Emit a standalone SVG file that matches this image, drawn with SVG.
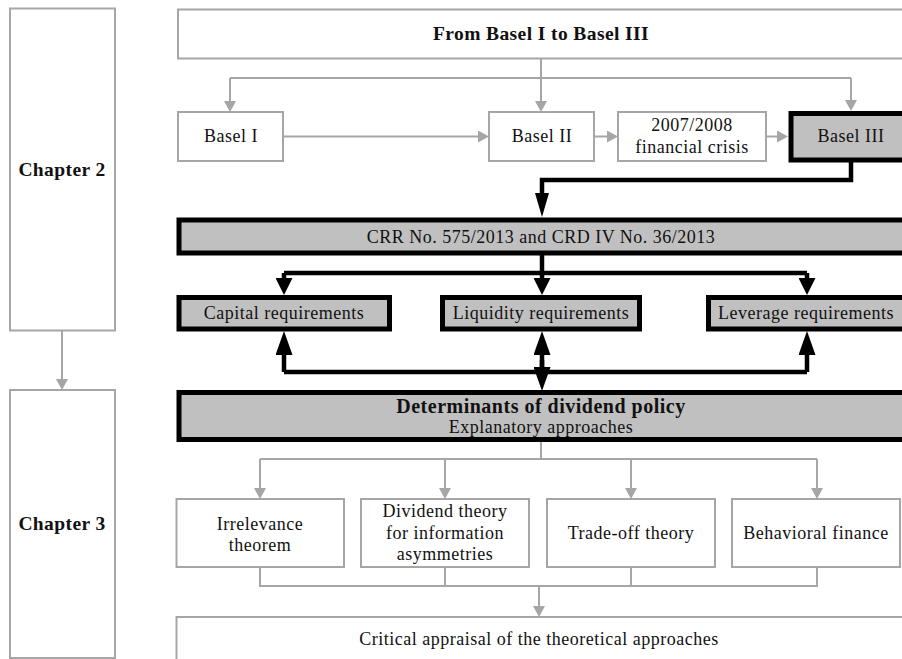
<svg xmlns="http://www.w3.org/2000/svg" width="902" height="659" viewBox="0 0 902 659">
  <style>
    .gbox { fill: #ffffff; stroke: #a6a6a6; stroke-width: 2; }
    .kbox { fill: #c0c0c0; stroke: #000000; stroke-width: 5; }
    .gline { fill: none; stroke: #a6a6a6; stroke-width: 2; }
    .kline { fill: none; stroke: #000000; stroke-width: 4.5; }
    text { font-family: "Liberation Serif", "Times New Roman", serif; font-size: 18px; fill: #111111; text-anchor: middle; letter-spacing: 0.5px; }
    .bold { font-weight: bold; font-size: 19.5px; letter-spacing: 0.4px; }
    .title { font-weight: bold; font-size: 20px; letter-spacing: 0.5px; }
  </style>
  <defs>
    <marker id="gArrow" viewBox="0 0 11 12" refX="0" refY="6" markerWidth="11" markerHeight="12" markerUnits="userSpaceOnUse" orient="auto">
      <path d="M0,0 L11,6 L0,12 Z" fill="#a6a6a6"/>
    </marker>
    <marker id="kArrow" viewBox="0 0 17 17" refX="0" refY="8.5" markerWidth="17" markerHeight="17" markerUnits="userSpaceOnUse" orient="auto">
      <path d="M0,0 L17,8.5 L0,17 Z" fill="#000000"/>
    </marker>
    <marker id="kArrowLong" viewBox="0 0 24 17" refX="0" refY="8.5" markerWidth="24" markerHeight="17" markerUnits="userSpaceOnUse" orient="auto">
      <path d="M0,0 L24,8.5 L0,17 Z" fill="#000000"/>
    </marker>
    <marker id="kArrowNarrow" viewBox="0 0 24 14" refX="0" refY="7" markerWidth="24" markerHeight="14" markerUnits="userSpaceOnUse" orient="auto">
      <path d="M0,0 L24,7 L0,14 Z" fill="#000000"/>
    </marker>
  </defs>

  <!-- connectors -->
  <g id="connectors">
    <!-- chapter link -->
    <path class="gline" d="M62,331 V379" marker-end="url(#gArrow)"/>
    <!-- fan out from the overview -->
    <path class="gline" d="M541,58 V101" marker-end="url(#gArrow)"/>
    <path class="gline" d="M230,78 H851"/>
    <path class="gline" d="M230,78 V101" marker-end="url(#gArrow)"/>
    <path class="gline" d="M851,78 V100" marker-end="url(#gArrow)"/>
    <!-- timeline -->
    <path class="gline" d="M283,136.5 H478" marker-end="url(#gArrow)"/>
    <path class="gline" d="M594,136.5 H607" marker-end="url(#gArrow)"/>
    <path class="gline" d="M766,136.5 H777" marker-end="url(#gArrow)"/>
    <!-- Basel III to regulation -->
    <path class="kline" d="M851,162 V180 H542 V193" marker-end="url(#kArrowNarrow)"/>
    <!-- regulation to requirements -->
    <path class="kline" d="M542,255 V273"/>
    <path class="kline" d="M284,273 H807"/>
    <path class="kline" d="M284,273 V278" marker-end="url(#kArrow)"/>
    <path class="kline" d="M542,273 V278" marker-end="url(#kArrow)"/>
    <path class="kline" d="M807,273 V278" marker-end="url(#kArrow)"/>
    <!-- feedback between requirements and dividend policy -->
    <path class="kline" d="M284,372 H807"/>
    <path class="kline" d="M284,372 V355" marker-end="url(#kArrowLong)"/>
    <path class="kline" d="M807,372 V355" marker-end="url(#kArrowLong)"/>
    <path class="kline" d="M542,372 V355" marker-end="url(#kArrowLong)"/>
    <path class="kline" d="M542,360 V367" marker-end="url(#kArrowLong)"/>
    <!-- explanatory approaches -->
    <path class="gline" d="M541,442 V459"/>
    <path class="gline" d="M260,459 H817"/>
    <path class="gline" d="M260,459 V488" marker-end="url(#gArrow)"/>
    <path class="gline" d="M445,459 V488" marker-end="url(#gArrow)"/>
    <path class="gline" d="M631,459 V488" marker-end="url(#gArrow)"/>
    <path class="gline" d="M817,459 V488" marker-end="url(#gArrow)"/>
    <!-- merge into appraisal -->
    <path class="gline" d="M260,567 V586 H817 V567"/>
    <path class="gline" d="M445,567 V586"/>
    <path class="gline" d="M631,567 V586"/>
    <path class="gline" d="M539,586 V606" marker-end="url(#gArrow)"/>
  </g>

  <g id="chapter2">
    <rect class="gbox" x="10" y="8.5" width="105" height="322"/>
    <text class="bold" x="62" y="176">Chapter 2</text>
  </g>
  <g id="chapter3">
    <rect class="gbox" x="10" y="390" width="105" height="268"/>
    <text class="bold" x="62" y="530">Chapter 3</text>
  </g>

  <g id="overview">
    <rect class="gbox" x="178" y="9.5" width="730" height="49"/>
    <text class="bold" x="541" y="40">From Basel I to Basel III</text>
  </g>

  <g id="basel1">
    <rect class="gbox" x="178" y="112" width="105" height="49"/>
    <text x="231" y="142">Basel I</text>
  </g>
  <g id="basel2">
    <rect class="gbox" x="489" y="112" width="105" height="49"/>
    <text x="542" y="142">Basel II</text>
  </g>
  <g id="crisis">
    <rect class="gbox" x="618" y="112" width="148" height="49"/>
    <text x="692" y="131">2007/2008</text>
    <text x="692" y="153">financial crisis</text>
  </g>
  <g id="basel3">
    <rect class="kbox" x="791" y="113.5" width="120" height="46.5"/>
    <text x="851" y="142">Basel III</text>
  </g>

  <g id="regulation">
    <rect class="kbox" x="179" y="220" width="730" height="33"/>
    <text x="541" y="243">CRR No. 575/2013 and CRD IV No. 36/2013</text>
  </g>

  <g id="capital">
    <rect class="kbox" x="179" y="297.5" width="210.5" height="31.5"/>
    <text x="284" y="319">Capital requirements</text>
  </g>
  <g id="liquidity">
    <rect class="kbox" x="442.5" y="297.5" width="197" height="31.5"/>
    <text x="541" y="319">Liquidity requirements</text>
  </g>
  <g id="leverage">
    <rect class="kbox" x="708.5" y="297.5" width="200" height="31.5"/>
    <text x="806" y="319">Leverage requirements</text>
  </g>

  <g id="determinants">
    <rect class="kbox" x="179" y="392.5" width="730" height="47"/>
    <text class="title" x="541" y="413">Determinants of dividend policy</text>
    <text x="541" y="433">Explanatory approaches</text>
  </g>

  <g id="irrelevance">
    <rect class="gbox" x="176.5" y="499" width="167.5" height="68"/>
    <text x="260" y="530">Irrelevance</text>
    <text x="260" y="551">theorem</text>
  </g>
  <g id="signalling">
    <rect class="gbox" x="361" y="499" width="168" height="68"/>
    <text x="445" y="517">Dividend theory</text>
    <text x="445" y="539">for information</text>
    <text x="445" y="560">asymmetries</text>
  </g>
  <g id="tradeoff">
    <rect class="gbox" x="547" y="499" width="168" height="68"/>
    <text x="631" y="539">Trade-off theory</text>
  </g>
  <g id="behavioral">
    <rect class="gbox" x="732" y="499" width="168" height="68"/>
    <text x="816" y="539">Behavioral finance</text>
  </g>

  <g id="appraisal">
    <rect class="gbox" x="176.5" y="617" width="730" height="60"/>
    <text x="539" y="645">Critical appraisal of the theoretical approaches</text>
  </g>
</svg>
